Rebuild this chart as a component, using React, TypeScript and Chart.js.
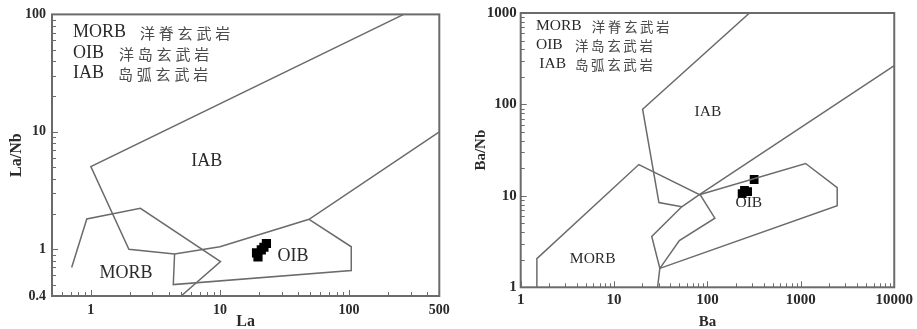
import React, { useEffect, useRef } from 'react';
import { Chart, registerables } from 'chart.js';
Chart.register(...registerables);

// ---------- Left diagram: La vs La/Nb ----------
const leftXTicks = [1, 10, 100, 500];
const leftYTicks = [0.4, 1, 10, 100];
const leftIAB = [
  { x: 265, y: 100 }, { x: 1.0, y: 5.05 }, { x: 1.97, y: 1.0 }, { x: 4.45, y: 0.91 },
  { x: 10, y: 1.05 }, { x: 49, y: 1.8 }, { x: 500, y: 10 },
];
const leftOIB = [
  { x: 49, y: 1.8 }, { x: 104, y: 1.05 }, { x: 104, y: 0.66 }, { x: 4.35, y: 0.5 }, { x: 4.45, y: 0.91 },
];
const leftMORB = [
  { x: 0.71, y: 0.7 }, { x: 0.93, y: 1.81 }, { x: 2.42, y: 2.23 }, { x: 10.1, y: 0.785 }, { x: 5.0, y: 0.4 },
];
const leftSamplesLa = [22.9, 21.9, 20.9, 19.2, 19.7];
const leftSamplesLaNb = [1.12, 1.04, 0.99, 0.93, 0.86];

// ---------- Right diagram: Ba vs Ba/Nb ----------
const rightXTicks = [1, 10, 100, 1000, 10000];
const rightYTicks = [1, 10, 100, 1000];
const rightIAB = [
  { x: 282, y: 1000 }, { x: 20.2, y: 88.7 }, { x: 30.2, y: 8.44 }, { x: 53, y: 7.6 },
];
const rightDivide = [
  { x: 10000, y: 265 }, { x: 82, y: 10.3 }, { x: 53, y: 7.6 }, { x: 25.3, y: 3.59 },
  { x: 30.9, y: 1.61 }, { x: 29.2, y: 1 },
];
const rightOIB = [
  { x: 82, y: 10.3 }, { x: 1124, y: 22.6 }, { x: 2450, y: 12.3 }, { x: 2450, y: 7.8 }, { x: 30.9, y: 1.61 },
];
const rightMORB = [
  { x: 1.49, y: 1 }, { x: 1.49, y: 2.06 }, { x: 18.4, y: 22 }, { x: 84, y: 10.2 },
  { x: 120, y: 5.7 }, { x: 50, y: 3.25 }, { x: 30.9, y: 1.61 },
];
const rightSamplesBa = [316, 249, 269, 235];
const rightSamplesBaNb = [15.1, 11.5, 11.1, 10.6];

// ---------- Texts ----------
const legendEn = ['MORB', 'OIB', 'IAB'];
const legendCn = ['洋脊玄武岩', '洋岛玄武岩', '岛弧玄武岩'];
const regionNames = ['IAB', 'MORB', 'OIB'];
const leftRegionAt = [{ x: 7.9, y: 5.6 }, { x: 1.87, y: 0.62 }, { x: 36.8, y: 0.87 }];
const rightRegionAt = [{ x: 101, y: 83 }, { x: 5.9, y: 2.06 }, { x: 277, y: 8.4 }];

const LINE = '#6b6b6b';
const TEXT = '#2a2a2a';
const SERIF = '"Liberation Serif", "Times New Roman", serif';
const CJK = '"Noto Sans CJK SC", sans-serif';

function logValues(min: number, max: number) {
  const out: { v: number; major: boolean }[] = [];
  const k0 = Math.floor(Math.log10(min));
  const k1 = Math.ceil(Math.log10(max));
  for (let k = k0; k <= k1; k++) {
    for (let m = 1; m <= 9; m++) {
      const v = Number((m * Math.pow(10, k)).toPrecision(6));
      if (v >= min * 0.9999 && v <= max * 1.0001) out.push({ v, major: m === 1 });
    }
  }
  return out;
}

type Deco = {
  enX: number[]; cnX: number[]; rowY: number[];
  enSize: number; cnSize: number; cnSpacing: number;
  regionAt: { x: number; y: number }[]; regionSize: number;
};

function decoPlugin(d: Deco) {
  return {
    id: 'deco',
    afterDraw(chart: any) {
      const { ctx, chartArea: a } = chart;
      const xs = chart.scales.x;
      const ys = chart.scales.y;
      ctx.save();
      ctx.strokeStyle = LINE;
      ctx.lineWidth = 1;
      // inward ticks
      for (const t of logValues(xs.min, xs.max)) {
        const px = Math.round(xs.getPixelForValue(t.v)) + 0.5;
        const len = t.major ? 6 : 4;
        ctx.beginPath();
        ctx.moveTo(px, a.bottom);
        ctx.lineTo(px, a.bottom - len);
        ctx.stroke();
      }
      for (const t of logValues(ys.min, ys.max)) {
        const py = Math.round(ys.getPixelForValue(t.v)) + 0.5;
        const len = t.major ? 6 : 4;
        ctx.beginPath();
        ctx.moveTo(a.left, py);
        ctx.lineTo(a.left + len, py);
        ctx.stroke();
      }
      // frame
      ctx.lineWidth = 2;
      ctx.strokeRect(a.left, a.top, a.right - a.left, a.bottom - a.top);
      // legend block
      ctx.fillStyle = TEXT;
      ctx.textBaseline = 'middle';
      ctx.textAlign = 'left';
      for (let i = 0; i < legendEn.length; i++) {
        ctx.font = `${d.enSize}px ${SERIF}`;
        (ctx as any).letterSpacing = '0px';
        ctx.fillText(legendEn[i], d.enX[i], d.rowY[i]);
        ctx.fillStyle = '#4a4a4a';
        ctx.font = `${d.cnSize}px ${CJK}`;
        (ctx as any).letterSpacing = `${d.cnSpacing}px`;
        ctx.fillText(legendCn[i], d.cnX[i], d.rowY[i] + 1);
        ctx.fillStyle = TEXT;
      }
      (ctx as any).letterSpacing = '0px';
      // field names
      ctx.textAlign = 'center';
      ctx.font = `${d.regionSize}px ${SERIF}`;
      regionNames.forEach((name, i) => {
        const p = d.regionAt[i];
        ctx.fillText(name, xs.getPixelForValue(p.x), ys.getPixelForValue(p.y));
      });
      ctx.restore();
    },
  };
}

function lineSet(data: { x: number; y: number }[]) {
  return {
    data,
    showLine: true,
    borderColor: LINE,
    borderWidth: 1.5,
    pointRadius: 0,
    fill: false,
    tension: 0,
  };
}

function sampleSet(xs: number[], ys: number[], r: number) {
  return {
    data: xs.map((x, i) => ({ x, y: ys[i] })),
    showLine: false,
    pointStyle: 'rect',
    pointRadius: r,
    backgroundColor: '#000',
    borderColor: '#000',
    borderWidth: 0,
  };
}

type AxisCfg = {
  min: number; max: number; ticks: number[]; font: number; padding: number;
  fit: number; title: string; titleFont: number; titlePad: any;
};

function axis(c: AxisCfg, horizontal: boolean) {
  return {
    type: 'logarithmic',
    min: c.min,
    max: c.max,
    afterBuildTicks: (s: any) => { s.ticks = c.ticks.map((v) => ({ value: v })); },
    afterFit: (s: any) => { if (horizontal) s.height = c.fit; else s.width = c.fit; },
    grid: { display: false, drawTicks: false },
    border: { display: false },
    ticks: {
      autoSkip: false, maxRotation: 0, padding: c.padding, color: TEXT,
      font: { family: SERIF, size: c.font, weight: 'bold' },
      callback: (v: any) => String(v),
    },
    title: {
      display: true, text: c.title, color: TEXT, padding: c.titlePad,
      font: { family: SERIF, size: c.titleFont, weight: 'bold', lineHeight: horizontal ? 1 : 1.2 },
    },
  };
}

function makeChart(canvas: HTMLCanvasElement, datasets: any[], x: AxisCfg, y: AxisCfg, pad: any, deco: Deco) {
  return new Chart(canvas, {
    type: 'scatter',
    data: { datasets },
    options: {
      animation: false,
      responsive: false,
      layout: { padding: pad },
      plugins: { legend: { display: false }, tooltip: { enabled: false } },
      scales: { x: axis(x, true) as any, y: axis(y, false) as any },
    },
    plugins: [decoPlugin(deco)],
  } as any);
}

export default function App() {
  const leftRef = useRef<HTMLCanvasElement>(null);
  const rightRef = useRef<HTMLCanvasElement>(null);

  useEffect(() => {
    document.body.style.margin = '0';
    const c1 = makeChart(
      leftRef.current!,
      [lineSet(leftIAB), lineSet(leftOIB), lineSet(leftMORB), sampleSet(leftSamplesLa, leftSamplesLaNb, 6.5)],
      { min: 0.5, max: 500, ticks: leftXTicks, font: 14, padding: 6, fit: 33, title: 'La', titleFont: 16, titlePad: { top: 0, bottom: -1 } },
      { min: 0.4, max: 100, ticks: leftYTicks, font: 14, padding: 6, fit: 52, title: 'La/Nb', titleFont: 16, titlePad: { top: 7, bottom: 0 } },
      { left: 0, top: 10, right: 20.7, bottom: 0 },
      {
        enX: [73, 73, 73], cnX: [140, 119, 118], rowY: [32, 53, 73],
        enSize: 18, cnSize: 15, cnSpacing: 3.8,
        regionAt: leftRegionAt, regionSize: 18,
      },
    );
    const c2 = makeChart(
      rightRef.current!,
      [lineSet(rightIAB), lineSet(rightDivide), lineSet(rightOIB), lineSet(rightMORB), sampleSet(rightSamplesBa, rightSamplesBaNb, 6.2)],
      { min: 1, max: 10000, ticks: rightXTicks, font: 15, padding: 4, fit: 41.7, title: 'Ba', titleFont: 15, titlePad: { top: 0, bottom: -1 } },
      { min: 1, max: 1000, ticks: rightYTicks, font: 15, padding: 4, fit: 60.7, title: 'Ba/Nb', titleFont: 15, titlePad: { top: 12, bottom: 0 } },
      { left: 0, top: 10, right: 13.7, bottom: 0 },
      {
        enX: [76, 76, 79.3], cnX: [131.7, 115, 115], rowY: [26, 45, 63.5],
        enSize: 15.5, cnSize: 13.5, cnSpacing: 2.6,
        regionAt: rightRegionAt, regionSize: 15.5,
      },
    );
    return () => { c1.destroy(); c2.destroy(); };
  }, []);

  return (
    <div style={{ position: 'relative', width: 917, height: 329, background: '#fff' }}>
      <canvas ref={leftRef} width={460} height={329} style={{ position: 'absolute', left: 0, top: 0, width: 460, height: 329 }} />
      <canvas ref={rightRef} width={457} height={329} style={{ position: 'absolute', left: 460, top: 0, width: 457, height: 329 }} />
    </div>
  );
}
